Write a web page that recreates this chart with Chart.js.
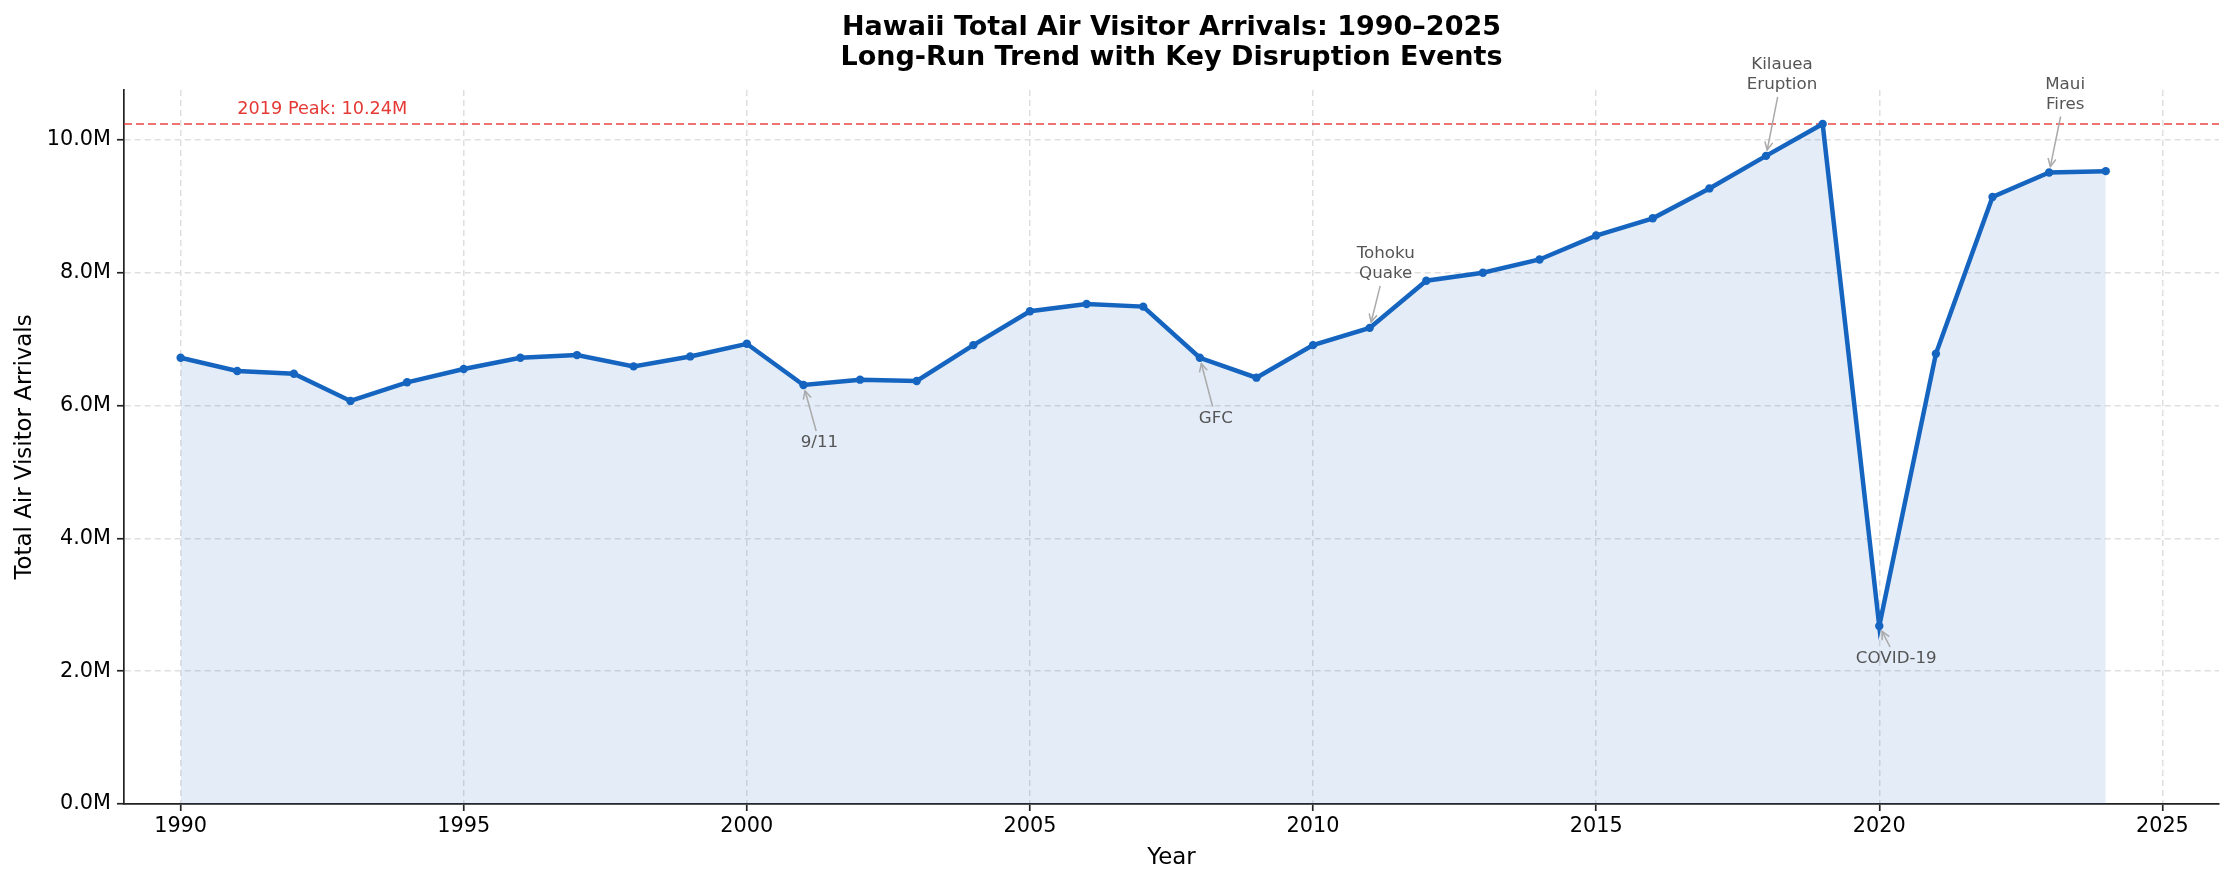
<!DOCTYPE html>
<html>
<head>
<meta charset="utf-8">
<script src="https://cdn.jsdelivr.net/npm/chart.js@4.4.1/dist/chart.umd.min.js"></script>
<style>html,body{margin:0;padding:0;background:#fff}</style>
</head>
<body>
<canvas id="grafico" width="2235" height="885"></canvas>
<script>
// Hawaii air visitor arrivals (millions)
const anos = [1990, 1991, 1992, 1993, 1994, 1995, 1996, 1997, 1998, 1999,
  2000, 2001, 2002, 2003, 2004, 2005, 2006, 2007, 2008, 2009,
  2010, 2011, 2012, 2013, 2014, 2015, 2016, 2017, 2018, 2019,
  2020, 2021, 2022, 2023, 2024];
const chegadas = [6.72, 6.52, 6.48, 6.07, 6.35, 6.55, 6.72, 6.76, 6.59, 6.74,
  6.93, 6.31, 6.39, 6.37, 6.91, 7.42, 7.53, 7.49, 6.72, 6.42,
  6.91, 7.17, 7.88, 8.00, 8.20, 8.56, 8.82, 9.27, 9.76, 10.24,
  2.68, 6.78, 9.14, 9.51, 9.53];

const ticksX = [1990, 1995, 2000, 2005, 2010, 2015, 2020, 2025];
const ticksY = [0, 2, 4, 6, 8, 10];

const titulo = ['Hawaii Total Air Visitor Arrivals: 1990\u20132025', 'Long-Run Trend with Key Disruption Events'];

// events marked on the line
const eventosAno = [2001, 2008, 2011, 2018, 2020, 2023];
const eventosTexto = [['9/11'], ['GFC'], ['Tohoku', 'Quake'], ['Kilauea', 'Eruption'], ['COVID-19'], ['Maui', 'Fires']];

const pico = Math.max(...chegadas);
const anoPico = anos[chegadas.indexOf(pico)];

const FONTE = "'DejaVu Sans', sans-serif";
const AZUL = '#1565C0';

// text offsets (px) of each event label from its point
const deslocamentos = [[16, 58], [16, 61], [16, -64], [16, -81], [17, 33], [16, -78]];

function seta(ctx, x0, y0, x1, y1) {
  const ang = Math.atan2(y1 - y0, x1 - x0);
  const h = 8, w = 4;
  ctx.beginPath();
  ctx.moveTo(x0, y0);
  ctx.lineTo(x1, y1);
  ctx.stroke();
  ctx.beginPath();
  ctx.moveTo(x1 - h * Math.cos(ang) + w * Math.sin(ang), y1 - h * Math.sin(ang) - w * Math.cos(ang));
  ctx.lineTo(x1, y1);
  ctx.lineTo(x1 - h * Math.cos(ang) - w * Math.sin(ang), y1 - h * Math.sin(ang) + w * Math.cos(ang));
  ctx.stroke();
}

const anotacoes = {
  id: 'anotacoes',
  beforeDatasetsDraw(chart) {
    const { ctx, chartArea, scales } = chart;
    const yp = scales.y.getPixelForValue(pico);
    ctx.save();
    ctx.strokeStyle = 'rgba(229, 57, 53, 0.7)';
    ctx.lineWidth = 2.2;
    ctx.setLineDash([8, 4]);
    ctx.beginPath();
    ctx.moveTo(chartArea.left, yp);
    ctx.lineTo(chartArea.right, yp);
    ctx.stroke();
    ctx.setLineDash([]);
    ctx.fillStyle = '#E53935';
    ctx.font = '17.7px ' + FONTE;
    ctx.textAlign = 'left';
    ctx.textBaseline = 'middle';
    ctx.fillText(anoPico + ' Peak: ' + pico.toFixed(2) + 'M', scales.x.getPixelForValue(1991), yp - 15);
    ctx.restore();
  },
  afterDatasetsDraw(chart) {
    const { ctx, scales } = chart;
    const lh = 20;
    ctx.save();
    ctx.font = '16.7px ' + FONTE;
    ctx.textAlign = 'center';
    ctx.textBaseline = 'middle';
    eventosAno.forEach((ano, i) => {
      const px = scales.x.getPixelForValue(ano);
      const py = scales.y.getPixelForValue(chegadas[anos.indexOf(ano)]);
      const cx = px + deslocamentos[i][0];
      const cy = py + deslocamentos[i][1];
      const linhas = eventosTexto[i];
      ctx.fillStyle = '#555555';
      linhas.forEach((t, k) => {
        ctx.fillText(t, cx, cy - (linhas.length - 1) * lh / 2 + k * lh);
      });
      const dx = px - cx, dy = py - cy;
      const t = (linhas.length * lh / 2 + 2) / Math.abs(dy);
      const len = Math.hypot(dx, dy);
      ctx.strokeStyle = '#aaaaaa';
      ctx.lineWidth = 1.5;
      seta(ctx, cx + dx * t, cy + dy * t, px - dx / len * 6, py - dy / len * 6);
    });
    ctx.restore();
  },
  afterDraw(chart) {
    // title centred over the plot area, like the reference
    const { ctx, chartArea } = chart;
    const meio = (chartArea.left + chartArea.right) / 2;
    ctx.save();
    ctx.fillStyle = '#000';
    ctx.font = 'bold 27px ' + FONTE;
    ctx.textAlign = 'center';
    ctx.textBaseline = 'middle';
    titulo.forEach((t, k) => ctx.fillText(t, meio, 28 + k * 30));
    ctx.restore();
  }
};

const ctx = document.getElementById('grafico').getContext('2d');

new Chart(ctx, {
  type: 'line',
  data: {
    datasets: [{
      data: anos.map((a, i) => ({ x: a, y: chegadas[i] })),
      borderColor: AZUL,
      backgroundColor: 'rgba(21, 101, 192, 0.12)',
      pointBackgroundColor: AZUL,
      pointBorderWidth: 0,
      pointRadius: 4.2,
      borderWidth: 4.5,
      fill: 'origin',
      tension: 0
    }]
  },
  options: {
    responsive: false,
    animation: false,
    devicePixelRatio: 1,
    layout: { padding: { left: 0, right: 16, top: 90, bottom: 0 } },
    plugins: {
      legend: { display: false },
      tooltip: { enabled: false },
      title: { display: false }
    },
    scales: {
      x: {
        type: 'linear',
        min: 1989,
        max: 2026,
        afterBuildTicks: s => { s.ticks = ticksX.map(v => ({ value: v })); },
        afterFit: s => { s.height = 81; },
        ticks: {
          color: '#000',
          font: { family: FONTE, size: 20.8 },
          padding: 3,
          callback: v => String(v)
        },
        grid: { color: '#dfdfdf', lineWidth: 1.5, tickLength: 7, tickColor: '#222', tickWidth: 1.7 },
        border: { color: '#222', width: 1.7, dash: [6, 4] },
        title: {
          display: true,
          text: 'Year',
          color: '#000',
          font: { family: FONTE, size: 22.9 },
          padding: { top: 0, bottom: 13 }
        }
      },
      y: {
        min: 0,
        max: pico * 1.05,
        afterBuildTicks: s => { s.ticks = ticksY.map(v => ({ value: v })); },
        afterFit: s => { s.width = 124; },
        ticks: {
          color: '#000',
          font: { family: FONTE, size: 20.8 },
          padding: 6,
          callback: v => v.toFixed(1) + 'M'
        },
        grid: { color: '#dfdfdf', lineWidth: 1.5, tickLength: 7, tickColor: '#222', tickWidth: 1.7 },
        border: { color: '#222', width: 1.7, dash: [6, 4] },
        title: {
          display: true,
          text: 'Total Air Visitor Arrivals',
          color: '#000',
          font: { family: FONTE, size: 22.9 },
          padding: { top: 11.5, bottom: 0 }
        }
      }
    }
  },
  plugins: [anotacoes]
});
</script>
</body>
</html>
